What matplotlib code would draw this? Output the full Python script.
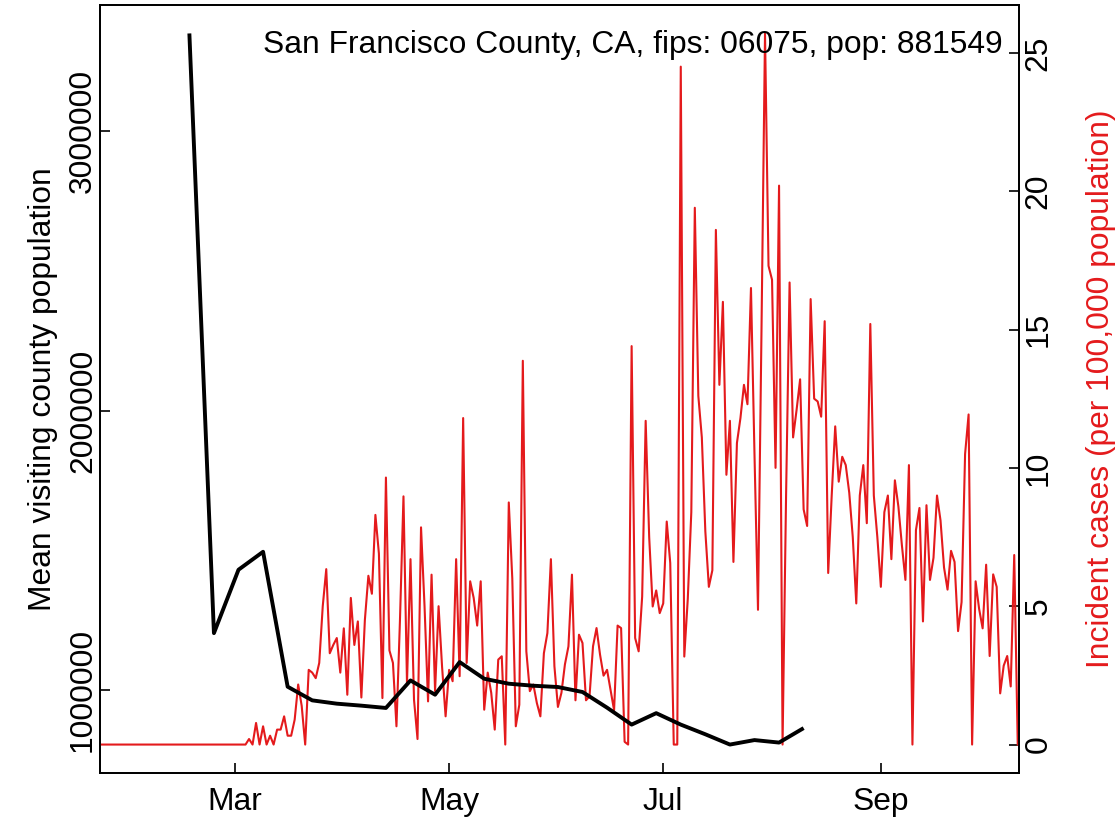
import matplotlib
matplotlib.use('Agg')
import matplotlib.pyplot as plt
import matplotlib.dates as mdates
import datetime as dt

plt.rcParams['font.family'] = ['Liberation Sans', 'DejaVu Sans']

# ---- data ----
title_text = "San Francisco County, CA, fips: 06075, pop: 881549"
left_label = "Mean visiting county population"
right_label = "Incident cases (per 100,000 population)"

visit_start = dt.date(2020, 2, 17)   # weekly values
visit_values = [3347500, 1204600, 1431200, 1495400, 1013200, 964400, 952600,
                945500, 937300, 1035600, 984700, 1101200, 1041700, 1023900,
                1016700, 1012100, 994300, 938300, 877800, 918700, 877800,
                843200, 806500, 822500, 813600, 865300]

case_start = dt.date(2020, 1, 22)    # daily values
case_values = [0] * 43 + [
    0.2, 0, 0.78, 0, 0.66, 0, 0.32, 0, 0.54, 0.54,
    1.02, 0.32, 0.32, 0.9, 2.17, 1.4, 0, 2.7, 2.6, 2.4,
    2.95, 5.0, 6.34, 3.3, 3.6, 3.85, 2.6, 4.2, 1.8, 5.3,
    3.6, 4.45, 1.7, 4.5, 6.1, 5.45, 8.3, 6.9, 1.68, 9.65,
    3.4, 2.95, 0.66, 4.5, 8.97, 2.23, 6.7, 1.62, 0.2, 7.85,
    5.0, 1.56, 6.14, 1.93, 5.0, 2.8, 1.02, 2.7, 2.29, 6.7,
    2.47, 11.8, 2.95, 5.9, 5.3, 4.3, 5.9, 1.26, 2.6, 1.87,
    0.54, 3.07, 3.19, 0, 8.75, 6.0, 0.66, 1.44, 13.87, 3.37,
    1.93, 2.17, 1.5, 1.02, 3.3, 4.03, 6.7, 2.83, 1.36, 1.87,
    2.9, 3.55, 6.14, 1.6, 3.97, 3.67, 1.6, 1.74, 3.55, 4.21,
    3.25, 2.49, 2.7, 1.98, 1.24, 4.3, 4.21, 0.1, 0, 14.4,
    3.85, 3.37, 5.35, 11.7, 7.5, 4.99, 5.57, 4.75, 5.1, 8.06,
    6.56, 0, 0, 24.5, 3.18, 5.27, 8.4, 19.4, 12.6, 11.1,
    7.7, 5.7, 6.3, 18.6, 13.0, 16.0, 9.75, 11.7, 6.6, 10.9,
    11.8, 13.0, 12.3, 16.5, 10.5, 4.87, 15.0, 25.7, 17.3, 16.8,
    10.0, 20.2, 0, 9.0, 16.7, 11.1, 12.1, 13.2, 8.5, 7.9,
    16.1, 12.5, 12.4, 11.85, 15.3, 6.2, 9.0, 11.5, 9.5, 10.4,
    10.1, 9.1, 7.5, 5.1, 9.0, 10.1, 8.0, 15.2, 9.0, 7.5,
    5.7, 8.4, 9.0, 6.7, 9.55, 8.6, 7.2, 5.95, 10.1, 0,
    7.75, 8.55, 4.45, 8.65, 5.95, 6.75, 9.0, 8.1, 6.4, 5.6,
    7.0, 6.6, 4.1, 5.15, 10.5, 11.93, 0, 5.9, 4.9, 4.2,
    6.5, 3.2, 6.15, 5.7, 1.85, 2.85, 3.2, 2.1, 6.85, 0]

month_ticks = [dt.date(2020, 3, 1), dt.date(2020, 5, 1),
               dt.date(2020, 7, 1), dt.date(2020, 9, 1)]
month_labels = ["Mar", "May", "Jul", "Sep"]
left_ticks = [1000000, 2000000, 3000000]
right_ticks = [0, 5, 10, 15, 20, 25]

visit_dates = [visit_start + dt.timedelta(weeks=i) for i in range(len(visit_values))]
case_dates = [case_start + dt.timedelta(days=i) for i in range(len(case_values))]

RED = '#E41A1C'
FS = 22.9

fig = plt.figure(figsize=(11.19, 8.17), dpi=100)
ax = fig.add_axes([100 / 1119, 1 - 773 / 817, 919 / 1119, 768 / 817])
ax2 = ax.twinx()

ax.plot(visit_dates, visit_values, color='black', lw=2.8,
        solid_joinstyle='round', solid_capstyle='butt', zorder=2)
ax2.plot(case_dates, case_values, color=RED, lw=1.5,
         solid_joinstyle='round', zorder=3)

# x range
mar1 = mdates.date2num(dt.date(2020, 3, 1))
ax.set_xlim(mar1 - 38.46, mar1 + 223.36)

# y ranges with R-style 4% padding
vmin, vmax = min(visit_values), max(visit_values)
pad = 0.04 * (vmax - vmin)
ax.set_ylim(vmin - pad, vmax + pad)
cmin, cmax = min(case_values), max(case_values)
cpad = 0.04 * (cmax - cmin)
ax2.set_ylim(cmin - cpad, cmax + cpad)

ax.set_xticks([mdates.date2num(d) for d in month_ticks])
ax.set_xticklabels(month_labels)
ax.set_yticks(left_ticks)
ax.set_yticklabels([str(v) for v in left_ticks], rotation=90, va='center')
ax2.set_yticks(right_ticks)
ax2.set_yticklabels([str(v) for v in right_ticks], rotation=90, va='center')

ax.tick_params(axis='x', direction='in', length=7, width=1.2, labelsize=FS,
               pad=10, color='black')
ax.tick_params(axis='y', direction='in', length=7, width=1.2, labelsize=FS,
               pad=1.5, color='black')
ax2.tick_params(axis='y', direction='in', length=7, width=1.2, labelsize=FS,
                pad=3.5, color='black')
for a in (ax, ax2):
    for s in a.spines.values():
        s.set_linewidth(1.3)
        s.set_color('black')

ax.set_ylabel(left_label, fontsize=FS, labelpad=7)
ax2.set_ylabel(right_label, fontsize=FS, color=RED, rotation=90, labelpad=23)

ax.text(0.982, 0.948, title_text, transform=ax.transAxes, ha='right',
        va='center', fontsize=FS, zorder=5)

ax.set_zorder(ax2.get_zorder() + 1)
ax.patch.set_visible(False)

fig.savefig('out.png', dpi=100)
